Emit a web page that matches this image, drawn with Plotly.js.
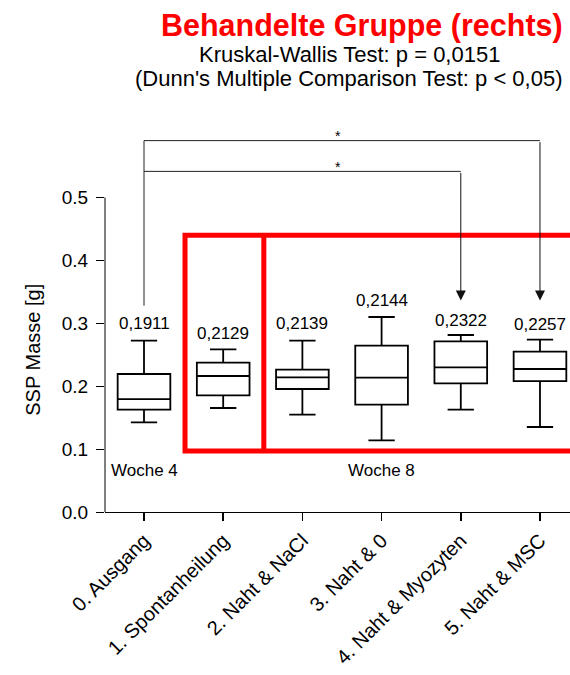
<!DOCTYPE html>
<html>
<head>
<meta charset="utf-8">
<script src="https://cdn.plot.ly/plotly-3.0.1.min.js"></script>
<style>
html,body{margin:0;padding:0;background:#fff;}
#chart{width:570px;height:675px;}
</style>
</head>
<body>
<div id="chart"></div>
<script>
// ---- data ----
const categories = ['0. Ausgang','1. Spontanheilung','2. Naht & NaCl','3. Naht & 0','4. Naht & Myozyten','5. Naht & MSC'];
const lowerWhisker = [0.1425, 0.1653, 0.1547, 0.1139, 0.1626, 0.1351];
const q1Values     = [0.1626, 0.1854, 0.1955, 0.1706, 0.2045, 0.2082];
const medianValues = [0.1796, 0.2162, 0.2140, 0.2135, 0.2299, 0.2273];
const q3Values     = [0.2194, 0.2374, 0.2262, 0.2644, 0.2713, 0.2548];
const upperWhisker = [0.2723, 0.2586, 0.2723, 0.3100, 0.2814, 0.2739];
const meanLabels   = ['0,1911','0,2129','0,2139','0,2144','0,2322','0,2257'];
const meanLabelY   = [0.299, 0.283, 0.299, 0.336, 0.305, 0.298];
const yTickVals    = [0, 0.1, 0.2, 0.3, 0.4, 0.5];
const yTickText    = ['0.0','0.1','0.2','0.3','0.4','0.5'];
// significance comparisons (Dunn's test)
const compFrom   = [0, 0];
const compTo     = [5, 4];
const compLevel  = [0.5904, 0.5415];
const compLabel  = ['*', '*'];
const compLabelY = [0.597, 0.548];
const compStartY = 0.328;
const compArrowY = 0.3364;
// group labels
const weekLabels = ['Woche 4', 'Woche 8'];
const weekX      = [0, 3];
const weekY      = 0.0655;

// ---- traces ----
const boxTrace = {
  type: 'box',
  x: categories,
  q1: q1Values,
  median: medianValues,
  q3: q3Values,
  lowerfence: lowerWhisker,
  upperfence: upperWhisker,
  width: 0.665,
  whiskerwidth: 0.5,
  fillcolor: 'white',
  line: {color: 'black', width: 1.8},
  boxpoints: false,
  hoverinfo: 'skip',
  showlegend: false
};

// ---- shapes ----
const lineStyle = {color: '#222', width: 1};
const shapes = [];
// y-axis line (only 0 .. 0.5)
shapes.push({type:'line', xref:'paper', yref:'y', x0:0, x1:0, y0:0, y1:0.5, line:{color:'black', width:1}});
// red frame + divider
shapes.push({type:'rect', xref:'x', yref:'y', x0:0.518, x1:5.8, y0:0.097, y1:0.440, line:{color:'#ff0000', width:5}, fillcolor:'rgba(0,0,0,0)'});
shapes.push({type:'line', xref:'x', yref:'y', x0:1.513, x1:1.513, y0:0.097, y1:0.440, line:{color:'#ff0000', width:5}});
// comparison brackets
shapes.push({type:'line', xref:'x', yref:'y', x0:0, x1:0, y0:compStartY, y1:Math.max(...compLevel), line:lineStyle});
for (let i = 0; i < compFrom.length; i++) {
  shapes.push({type:'line', xref:'x', yref:'y', x0:compFrom[i], x1:compTo[i], y0:compLevel[i], y1:compLevel[i], line:lineStyle});
}

// ---- annotations ----
const annotations = [];
const baseFont = 'Liberation Sans, Arial, sans-serif';
for (let i = 0; i < categories.length; i++) {
  annotations.push({xref:'x', yref:'y', x:i, y:meanLabelY[i], text:meanLabels[i], showarrow:false,
    xanchor:'center', yanchor:'middle', font:{size:17, color:'black', family:baseFont}});
}
for (let i = 0; i < compFrom.length; i++) {
  annotations.push({xref:'x', yref:'y', x:compTo[i], y:compArrowY, ax:compTo[i], ay:compLevel[i],
    axref:'x', ayref:'y', text:'', showarrow:true, arrowhead:2, arrowsize:2, arrowwidth:1,
    arrowcolor:'#111', standoff:0, startstandoff:0});
  annotations.push({xref:'x', yref:'y', x:2.45, y:compLabelY[i], text:compLabel[i], showarrow:false,
    xanchor:'center', yanchor:'middle', font:{size:14, color:'black', family:baseFont}});
}
for (let i = 0; i < weekLabels.length; i++) {
  annotations.push({xref:'x', yref:'y', x:weekX[i], y:weekY, text:weekLabels[i], showarrow:false,
    xanchor:'center', yanchor:'middle', font:{size:17, color:'black', family:baseFont}});
}
// y-axis title
annotations.push({xref:'paper', yref:'y', x:-0.1548, y:0.258, text:'SSP Masse [g]', textangle:-90,
  showarrow:false, xanchor:'center', yanchor:'middle', font:{size:20, color:'black', family:baseFont}});
// titles
annotations.push({xref:'paper', yref:'paper', x:0.552, y:1.2487, text:'<b>Behandelte Gruppe (rechts)</b>',
  showarrow:false, xanchor:'center', yanchor:'middle', font:{size:30.5, color:'#ff0000', family:baseFont}});
annotations.push({xref:'paper', yref:'paper', x:0.5258, y:1.1718, text:'Kruskal-Wallis Test: p = 0,0151',
  showarrow:false, xanchor:'center', yanchor:'middle', font:{size:22, color:'black', family:baseFont}});
annotations.push({xref:'paper', yref:'paper', x:0.5247, y:1.1118, text:"(Dunn's Multiple Comparison Test: p < 0,05)",
  showarrow:false, xanchor:'center', yanchor:'middle', font:{size:22, color:'black', family:baseFont}});

const layout = {
  width: 570,
  height: 675,
  margin: {l:105, r:0, t:122, b:163, pad:0},
  paper_bgcolor: 'white',
  plot_bgcolor: 'white',
  font: {family: baseFont, color: 'black'},
  showlegend: false,
  xaxis: {
    type: 'category',
    range: [-0.4924, 5.379],
    showline: true, linecolor: 'black', linewidth: 1,
    ticks: 'outside', ticklen: 8, tickcolor: 'black', tickwidth: 1.5,
    tickangle: -45,
    tickfont: {size: 20, color: 'black', family: baseFont},
    showgrid: false, zeroline: false, fixedrange: true
  },
  yaxis: {
    range: [0, 0.62],
    tickvals: yTickVals, ticktext: yTickText,
    showline: false,
    ticks: 'outside', ticklen: 8, tickcolor: 'black', tickwidth: 1,
    ticklabelstandoff: 4,
    tickfont: {size: 19, color: 'black', family: baseFont},
    showgrid: false, zeroline: false, fixedrange: true
  },
  shapes: shapes,
  annotations: annotations
};

Plotly.newPlot('chart', [boxTrace], layout, {displayModeBar: false, staticPlot: true});
</script>
</body>
</html>
